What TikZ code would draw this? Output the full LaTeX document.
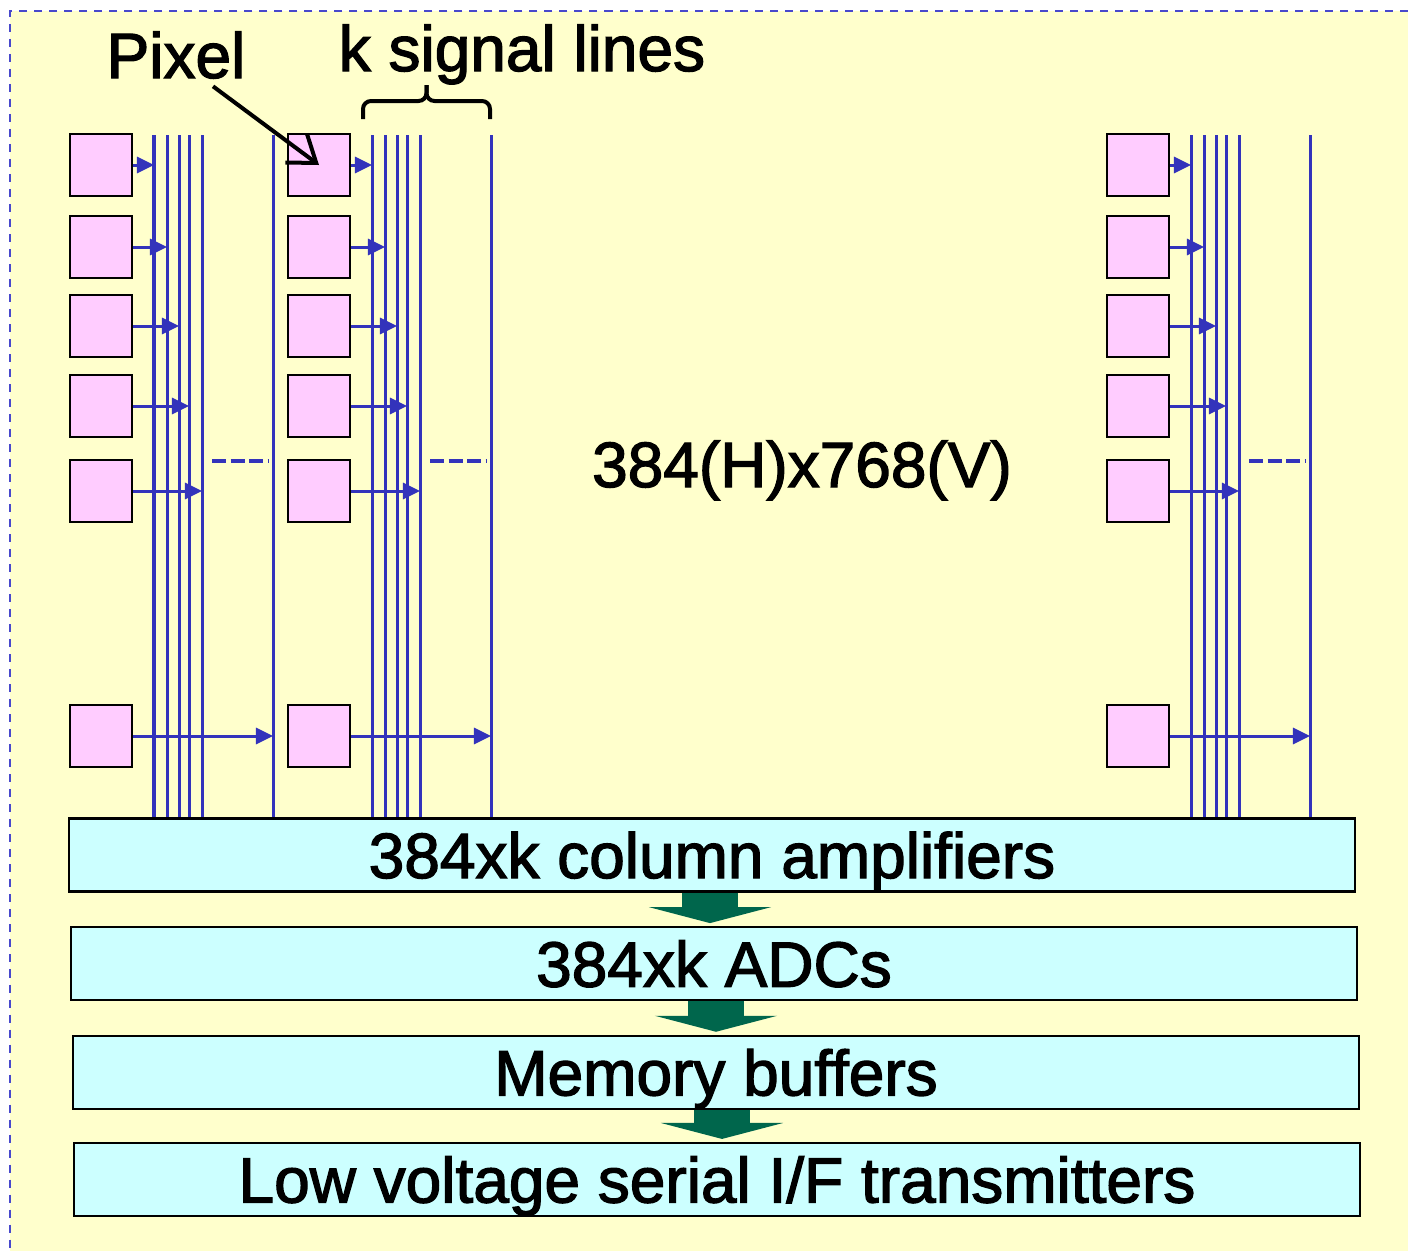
\documentclass[tikz,border=0pt]{standalone}
\usepackage{fontspec}
\setmainfont{Liberation Sans}[BoldFont=Liberation Sans, BoldFeatures={FakeBold=2}]
\usepackage{tikz}
\usetikzlibrary{arrows.meta, positioning, calc}
\definecolor{fondjaune}{RGB}{255,255,204}
\definecolor{bleuligne}{RGB}{51,51,187}
\definecolor{bleucadre}{RGB}{72,72,204}
\definecolor{rosepixel}{RGB}{255,204,255}
\definecolor{cyanbloc}{RGB}{204,255,255}
\definecolor{vertfleche}{RGB}{0,102,76}

\begin{document}
\begin{tikzpicture}[x=0.01cm, y=-0.01cm, >=latex,
		pixel/.style={rectangle, draw, line width=0.6pt, fill=rosepixel, minimum width=0.62cm, minimum height=0.62cm, inner sep=0pt},
		bloc/.style={rectangle, draw, line width=0.6pt, fill=cyanbloc, minimum width=12.85cm, minimum height=0.73cm, inner sep=0pt, text height=0.46cm, text depth=0cm, font=\fontsize{18.2}{22}\selectfont\bfseries},
		etiquette/.style={inner sep=0pt, font=\fontsize{18.2}{22}\selectfont\bfseries},
		ligne/.style={bleuligne, line width=0.03cm},
		fleche/.style={ligne, -{Triangle[length=0.17cm, width=0.16cm]}},
		pointille/.style={ligne, line width=0.035cm, dash pattern=on 0.14cm off 0.045cm},
		grosse/.style={vertfleche, line width=0.56cm, -{Triangle[length=0.16cm, width=1.22cm]}, shorten >=0.03cm}]
		% --- Fond ---
		\useasboundingbox (0,0) rectangle (1408,1251);
		\fill[fondjaune] (10,11) rectangle (1408,1251);
		\draw[bleucadre, line width=0.015cm, dash pattern=on 0.08cm off 0.07cm] (1408,11) -- (10,11) -- (10,1251);
		
		% --- Blocs du bas ---
		\node[bloc] (amps) at (712,855) {384xk column amplifiers};
		\node[bloc, below=0.335cm of amps, xshift=0.02cm] (adcs) {384xk ADCs};
		\node[bloc, below=0.335cm of adcs, xshift=0.02cm] (mem) {Memory buffers};
		\node[bloc, below=0.32cm of mem, xshift=0.01cm] (lvds) {Low voltage serial I/F transmitters};
		
		% --- Colonnes de pixels ---
		\foreach \col/\x in {a/70, b/288, c/1107} {
			\foreach \r/\y in {1/165, 2/247, 3/326, 4/406, 5/491, 6/736}
				\node[pixel] (p\col\r) at (\x+31,\y) {};
			\foreach \j/\dx in {1/84, 2/97, 3/109, 4/119, 5/132, 6/203} {
				\coordinate (l\col\j) at (\x+\dx,135);
				\draw[ligne] (l\col\j) -- (l\col\j |- amps.north);
			}
			\foreach \r in {1,...,6}
				\draw[fleche] (p\col\r.east) -- (p\col\r.east -| l\col\r);
			\draw[pointille] ($(l\col5)+(10,326)$) -- ($(l\col6)+(-5,326)$);
		}
		
		% --- Fleches entre les blocs ---
		\draw[grosse] ($(amps.south)+(-2,0)$) -- ($(amps.south |- adcs.north)+(-2,0)$);
		\draw[grosse] ($(adcs.south)+(2,0)$) -- ($(adcs.south |- mem.north)+(2,0)$);
		\draw[grosse] ($(mem.south)+(6,0)$) -- ($(mem.south |- lvds.north)+(6,0)$);
		
		% --- Textes ---
		\node[etiquette, anchor=base] (pixlabel) at (176,78) {Pixel};
		\node[etiquette, anchor=base] (klabel) at (522,71) {k signal lines};
		\node[etiquette, anchor=base] (taille) at (802,487) {384(H)x768(V)};
		\draw[line width=0.04cm, -{Straight Barb[length=0.25cm, width=0.36cm]}] ([xshift=0.37cm, yshift=-0.07cm]pixlabel.south) -- (pb1.center);
		
		% --- Accolade au-dessus des k lignes ---
		\coordinate (accg) at ($(lb1)+(-9,-16)$);
		\coordinate (accd) at ($(lb6)+(-1,-16)$);
		\coordinate (accm) at ($(accg)!0.5!(accd)+(0,-34)$);
		\draw[line width=0.04cm, rounded corners=0.08cm] (accg) -- ++(0,-18) -| (accm);
		\draw[line width=0.04cm, rounded corners=0.08cm] (accd) -- ++(0,-18) -| (accm);
		
	\end{tikzpicture}
\end{document}
